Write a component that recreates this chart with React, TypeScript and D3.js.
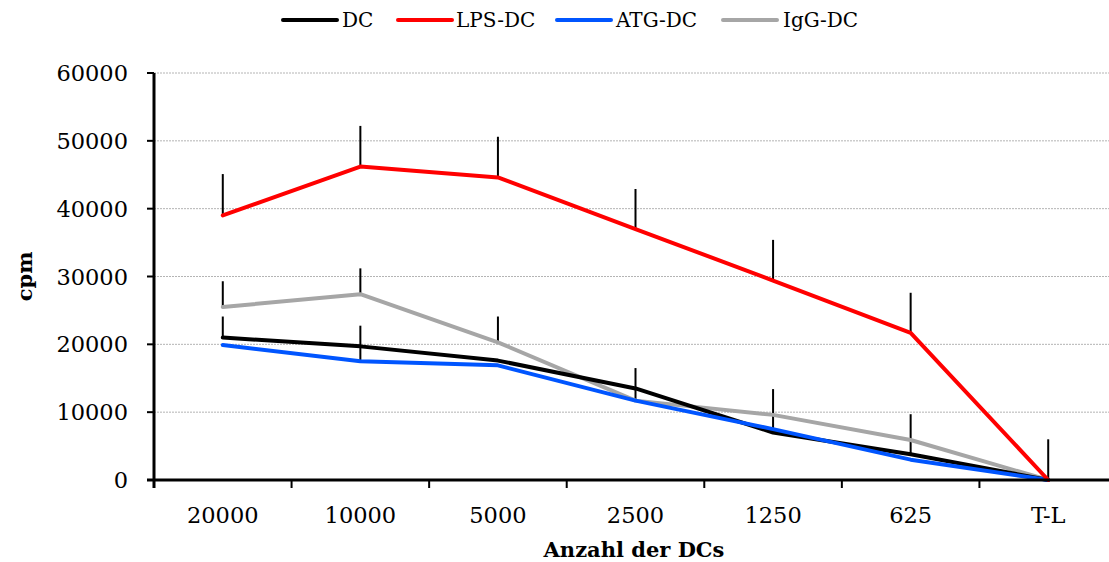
import React from "react";
import * as d3 from "d3";

const categories = ["20000", "10000", "5000", "2500", "1250", "625", "T-L"];
const yTicks = [0, 10000, 20000, 30000, 40000, 50000, 60000];

const dcValues = [21000, 19700, 17600, 13500, 7000, 3800, 0];
const lpsValues = [39000, 46200, 44600, 37000, 29400, 21700, 0];
const atgValues = [19900, 17500, 16900, 11700, 7500, 3000, 0];
const iggValues = [25500, 27400, 20300, 11700, 9600, 5900, 0];

const dcErrors = [3100, 0, 0, 0, 6400, 5900, 0];
const lpsErrors = [6100, 6000, 6000, 5900, 6000, 5900, 6000];
const atgErrors = [0, 5250, 0, 4800, 0, 0, 0];
const iggErrors = [3800, 3800, 3800, 0, 0, 0, 0];

const seriesNames = ["DC", "LPS-DC", "ATG-DC", "IgG-DC"];
const seriesColors = ["#000000", "#ff0000", "#0055ff", "#a6a6a6"];

const FONT = "'DejaVu Serif', serif";

export default function App() {
  const width = 1109;
  const height = 562;
  const left = 154;
  const right = 1117;
  const top = 73;
  const bottom = 480;

  const x = d3.scaleBand<string>().domain(categories).range([left, right]).padding(0);
  const y = d3.scaleLinear().domain([0, 60000]).range([bottom, top]);
  const cx = (c: string) => (x(c) as number) + x.bandwidth() / 2;

  const values = [dcValues, lpsValues, atgValues, iggValues];
  const errors = [dcErrors, lpsErrors, atgErrors, iggErrors];

  const line = d3
    .line<number>()
    .x((_, i) => cx(categories[i]))
    .y((v) => y(v));

  const legendX = [283, 398, 557, 723];
  const legendTextX = [342, 456, 616, 783];

  const drawOrder = [3, 0, 2, 1];

  return (
    <svg width={width} height={height} style={{ position: "absolute", left: 0, top: 0 }}>
      <rect x={0} y={0} width={width} height={height} fill="#fff" />
      {/* gridlines */}
      {yTicks.filter((t) => t > 0).map((t) => (
        <line key={"g" + t} x1={left} x2={width} y1={y(t)} y2={y(t)} stroke="#b4b4b4" strokeWidth={1} strokeDasharray="2,1" />
      ))}
      {/* error bars */}
      {errors.map((errs, si) =>
        errs.map((e, i) =>
          e > 0 ? (
            <line
              key={"e" + si + "-" + i}
              x1={cx(categories[i])}
              x2={cx(categories[i])}
              y1={y(values[si][i])}
              y2={y(values[si][i] + e)}
              stroke="#000"
              strokeWidth={2}
            />
          ) : null
        )
      )}
      {/* series lines */}
      {drawOrder.map((si) => (
        <path
          key={"s" + si}
          d={line(values[si]) as string}
          fill="none"
          stroke={seriesColors[si]}
          strokeWidth={4}
          strokeLinejoin="round"
          strokeLinecap="round"
        />
      ))}
      {/* y axis */}
      <line x1={left} x2={left} y1={top} y2={bottom + 8} stroke="#000" strokeWidth={3} />
      {yTicks.map((t) => (
        <g key={"yt" + t}>
          <line x1={left - 7} x2={left} y1={y(t)} y2={y(t)} stroke="#000" strokeWidth={2} />
          <text x={128} y={y(t)} dy="0.36em" textAnchor="end" fontFamily={FONT} fontSize={22.5} fill="#000">
            {t}
          </text>
        </g>
      ))}
      {/* x axis */}
      <line x1={left - 7} x2={width} y1={bottom} y2={bottom} stroke="#000" strokeWidth={3} />
      {categories.map((c) => (
        <g key={"xt" + c}>
          <line x1={x(c) as number} x2={x(c) as number} y1={bottom} y2={bottom + 8} stroke="#000" strokeWidth={2} />
          <text x={cx(c)} y={523} textAnchor="middle" fontFamily={FONT} fontSize={22.5} fill="#000">
            {c}
          </text>
        </g>
      ))}
      {/* axis titles */}
      <text x={634} y={557} textAnchor="middle" fontFamily={FONT} fontSize={21} fontWeight="bold" fill="#000">
        Anzahl der DCs
      </text>
      <text
        transform={`translate(32, ${(top + bottom) / 2}) rotate(-90)`}
        textAnchor="middle"
        fontFamily={FONT}
        fontSize={21}
        fontWeight="bold"
        fill="#000"
      >
        cpm
      </text>
      {/* legend */}
      {seriesNames.map((n, i) => (
        <g key={"l" + n}>
          <line x1={legendX[i]} x2={legendX[i] + 54} y1={20} y2={20} stroke={seriesColors[i]} strokeWidth={4} strokeLinecap="round" />
          <text x={legendTextX[i]} y={20} dy="0.36em" fontFamily={FONT} fontSize={20} fill="#000">
            {n}
          </text>
        </g>
      ))}
    </svg>
  );
}
